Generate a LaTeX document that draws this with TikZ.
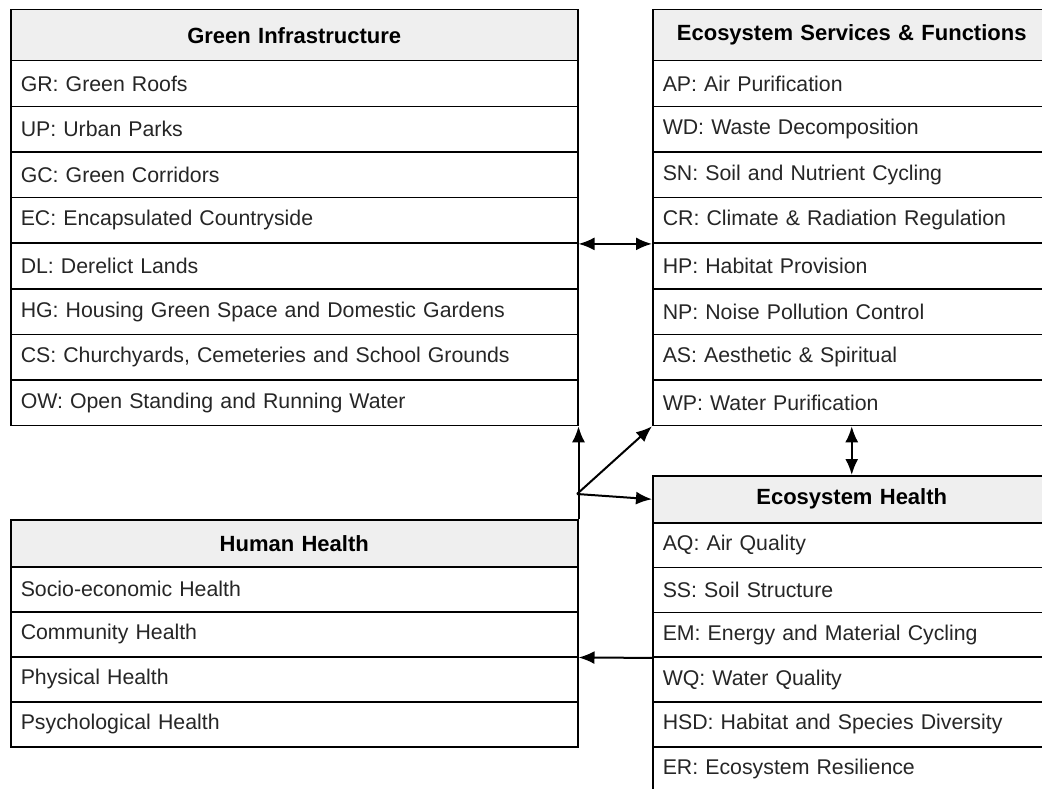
\documentclass[tikz,border=0pt]{standalone}
\usepackage{fontspec}
\setmainfont{Liberation Sans}
\usetikzlibrary{arrows.meta}
\definecolor{hdrfill}{HTML}{EFEFEF}
\definecolor{rowtext}{HTML}{262626}
\begin{document}
\begin{tikzpicture}[x=1pt,y=-1pt,
  cell/.style={draw=black, line width=1.5pt, rectangle, anchor=north west,
    inner xsep=10pt, inner ysep=0pt},
  hdr/.style={cell, fill=hdrfill, align=center,
    font=\fontsize{22}{26}\selectfont\bfseries},
  item/.style={cell, fill=white, align=left, text=rowtext,
    font=\fontsize{21.3}{25}\selectfont},
  tip/.tip={Latex[length=16pt,width=13pt]},
  link/.style={line width=2pt, -tip},
  dlink/.style={line width=2pt, tip-tip}
]
\clip (0,0) rectangle (1042,789);

% Green Infrastructure
\node[hdr, text width=547pt, minimum height=51pt] (gi-h) at (10,9) {Green Infrastructure};
\foreach \t [count=\i] in {GR: Green Roofs, UP: Urban Parks, GC: Green Corridors,
    EC: Encapsulated Countryside, DL: Derelict Lands,
    HG: Housing Green Space and Domestic Gardens,
    {CS: Churchyards, Cemeteries and School Grounds},
    OW: Open Standing and Running Water}
  \node[item, text width=547pt, minimum height=45.6pt] (gi-\i) at (10,{60+(\i-1)*45.6}) {\t};

% Ecosystem Services & Functions
\node[hdr, text width=378pt, minimum height=51pt] (esf-h) at (652,9) {Ecosystem Services \& Functions};
\foreach \t [count=\i] in {AP: Air Purification, WD: Waste Decomposition,
    SN: Soil and Nutrient Cycling, CR: Climate \& Radiation Regulation,
    HP: Habitat Provision, NP: Noise Pollution Control,
    AS: Aesthetic \& Spiritual, WP: Water Purification}
  \node[item, text width=378pt, minimum height=45.6pt] (esf-\i) at (652,{60+(\i-1)*45.6}) {\t};

% Ecosystem Health
\node[hdr, text width=378pt, minimum height=47pt] (eh-h) at (652,475) {Ecosystem Health};
\foreach \t [count=\i] in {AQ: Air Quality, SS: Soil Structure,
    EM: Energy and Material Cycling, WQ: Water Quality,
    HSD: Habitat and Species Diversity, ER: Ecosystem Resilience}
  \node[item, text width=378pt, minimum height=44.8pt] (eh-\i) at (652,{522+(\i-1)*44.8}) {\t};

% Human Health
\node[hdr, text width=547pt, minimum height=47pt] (hh-h) at (10,519) {Human Health};
\foreach \t [count=\i] in {Socio-economic Health, Community Health,
    Physical Health, Psychological Health}
  \node[item, text width=547pt, minimum height=45pt] (hh-\i) at (10,{566+(\i-1)*45}) {\t};

% Connectors
\coordinate (br) at (577,494);
\draw[dlink] (gi-4.south east) -- (esf-4.south west);
\draw[dlink] (esf-8.south) -- (eh-h.north);
\draw[link] (hh-h.north east) -- (gi-8.south east);
\draw[link] (br) -- (esf-8.south west);
\draw[link] (br) -- (eh-h.west);
\draw[link] (eh-3.south west) -- (hh-2.south east);
\end{tikzpicture}
\end{document}
